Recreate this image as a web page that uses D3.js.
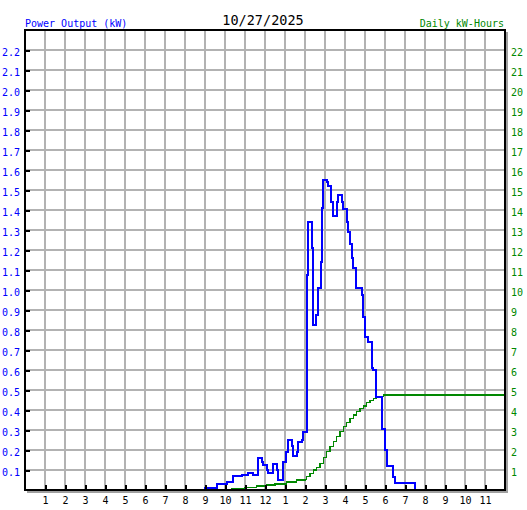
<!DOCTYPE html>
<html>
<head>
<meta charset="utf-8">
<script src="https://cdn.jsdelivr.net/npm/d3@7"></script>
<style>
  html, body { margin: 0; padding: 0; background: #ffffff; }
  svg { display: block; }
  text { font-family: "DejaVu Sans Mono", "Liberation Mono", monospace; }
</style>
</head>
<body>
<svg id="chart" width="527" height="510"></svg>
<script>
// ---- Data ----
const chartDate = "10/27/2025";
const leftTitle = "Power Output (kW)";
const rightTitle = "Daily kW-Hours";

// x tick labels (hours 1..23)
const hourTicks = [1,2,3,4,5,6,7,8,9,10,11,12,13,14,15,16,17,18,19,20,21,22,23];
const hourLabels = ["1","2","3","4","5","6","7","8","9","10","11","12","1","2","3","4","5","6","7","8","9","10","11"];

// left axis ticks (kW) and right axis ticks (kWh)
const kwTicks = [0.1,0.2,0.3,0.4,0.5,0.6,0.7,0.8,0.9,1.0,1.1,1.2,1.3,1.4,1.5,1.6,1.7,1.8,1.9,2.0,2.1,2.2];
const kwhTicks = [1,2,3,4,5,6,7,8,9,10,11,12,13,14,15,16,17,18,19,20,21,22];

// Power output (kW): time of day in hours, value (step series)
const powerHours = [8.83,9.0,9.58,10.08,10.38,10.83,11.13,11.38,11.63,11.83,11.92,12.08,12.17,12.38,12.58,12.67,
  12.88,13.05,13.17,13.33,13.42,13.58,13.67,13.83,13.92,14.08,14.12,14.17,14.33,14.38,14.55,14.67,14.8,14.87,14.92,
  15.08,15.17,15.30,15.42,15.58,15.67,15.83,15.92,16.08,16.17,16.25,16.37,16.42,16.53,16.83,16.88,17.0,17.13,17.33,
  17.42,17.53,17.83,17.98,18.08,18.42,18.5,19.5,19.53];
const powerKW = [0,0.01,0.03,0.04,0.07,0.075,0.085,0.075,0.16,0.14,0.125,0.10,0.085,0.13,0.10,0.05,
  0.14,0.19,0.25,0.22,0.17,0.19,0.24,0.25,0.29,0.55,1.075,1.34,1.21,0.825,0.875,1.01,1.14,1.41,1.55,
  1.54,1.52,1.44,1.37,1.44,1.475,1.44,1.405,1.34,1.29,1.23,1.16,1.11,1.01,0.975,0.867,0.767,0.742,0.61,
  0.60,0.467,0.303,0.20,0.12,0.067,0.033,0,0];

// Cumulative energy (kWh): time of day in hours, value (step series)
const energyHours = [8.83,9.5,10.33,11.0,11.58,12.08,12.5,13.08,13.58,14.0,14.08,14.25,14.42,14.58,14.75,14.92,
  15.08,15.25,15.42,15.58,15.75,15.92,16.08,16.25,16.42,16.58,16.75,16.92,17.08,17.25,17.42,17.58,17.75,17.92,24.0];
const energyKWh = [0,0.03,0.08,0.12,0.2,0.25,0.3,0.4,0.5,0.53,0.67,0.83,1.0,1.13,1.33,1.63,
  1.92,2.17,2.42,2.67,2.92,3.17,3.37,3.58,3.75,3.92,4.08,4.2,4.37,4.47,4.58,4.63,4.67,4.75,4.78];

// ---- Drawing ----
const svg = d3.select("#chart");
const L = 25, T = 30, R = 505, B = 490;

const x = d3.scaleLinear().domain([0, 24]).range([L, R]);
const yKW = d3.scaleLinear().domain([0, 2.3]).range([B, T]);
const yKWh = d3.scaleLinear().domain([0, 23]).range([B, T]);

const blue = "#0000ff", green = "#008800", gridCol = "#b2b2b2";

// grid
const grid = svg.append("g").attr("shape-rendering", "crispEdges");
grid.selectAll("line.v").data(hourTicks).join("line")
  .attr("x1", d => x(d)).attr("x2", d => x(d)).attr("y1", T).attr("y2", B)
  .attr("stroke", gridCol).attr("stroke-width", 2);
grid.selectAll("line.h").data(kwTicks).join("line")
  .attr("x1", L).attr("x2", R).attr("y1", d => yKW(d)).attr("y2", d => yKW(d))
  .attr("stroke", gridCol).attr("stroke-width", 2);

// lines
const powerData = powerHours.map((h, i) => [h, powerKW[i]]);
const energyData = energyHours.map((h, i) => [h, energyKWh[i]]);

svg.append("path").datum(energyData)
  .attr("fill", "none").attr("stroke", green).attr("stroke-width", 1.5)
  .attr("shape-rendering", "crispEdges")
  .attr("d", d3.line().x(d => x(d[0])).y(d => yKWh(d[1])).curve(d3.curveStepAfter));

svg.append("path").datum(powerData)
  .attr("fill", "none").attr("stroke", blue).attr("stroke-width", 2)
  .attr("shape-rendering", "crispEdges")
  .attr("d", d3.line().x(d => x(d[0])).y(d => yKW(d[1])).curve(d3.curveStepAfter));

// shadow + frame
const frame = svg.append("g").attr("shape-rendering", "crispEdges");
frame.append("line").attr("x1", R + 2).attr("x2", R + 2).attr("y1", T + 2).attr("y2", B + 3)
  .attr("stroke", "#a0a0a0").attr("stroke-width", 2);
frame.append("line").attr("x1", L + 2).attr("x2", R + 3).attr("y1", B + 2).attr("y2", B + 2)
  .attr("stroke", "#a0a0a0").attr("stroke-width", 2);
frame.append("rect").attr("x", L).attr("y", T).attr("width", R - L).attr("height", B - T)
  .attr("fill", "none").attr("stroke", "#000").attr("stroke-width", 2);

// axes
const leftAxis = svg.append("g").attr("transform", `translate(${L},0)`)
  .call(d3.axisLeft(yKW).tickValues(kwTicks).tickFormat(d3.format(".1f")).tickSize(-5).tickPadding(5));
leftAxis.select(".domain").remove();
leftAxis.selectAll("line").attr("stroke", "#000").attr("stroke-width", 2).attr("shape-rendering", "crispEdges");
leftAxis.selectAll("text").attr("fill", blue).attr("font-size", 10).attr("dy", "0.5em")
  .style("font-family", '"DejaVu Sans Mono", monospace');

const bottomAxis = svg.append("g").attr("transform", `translate(0,${B})`)
  .call(d3.axisBottom(x).tickValues(hourTicks).tickFormat((d, i) => hourLabels[i]).tickSize(-5).tickPadding(7));
bottomAxis.select(".domain").remove();
bottomAxis.selectAll("line").attr("stroke", "#000").attr("stroke-width", 2).attr("shape-rendering", "crispEdges");
bottomAxis.selectAll("text").attr("fill", "#000").attr("font-size", 10)
  .style("font-family", '"DejaVu Sans Mono", monospace');

const rightAxis = svg.append("g").attr("transform", `translate(${R},0)`)
  .call(d3.axisRight(yKWh).tickValues(kwhTicks).tickFormat(d3.format("d")).tickSize(0).tickPadding(6));
rightAxis.select(".domain").remove();
rightAxis.selectAll("text").attr("fill", green).attr("font-size", 10).attr("dy", "0.5em")
  .style("font-family", '"DejaVu Sans Mono", monospace');

// titles
svg.append("text").attr("x", L).attr("y", 26.5).attr("fill", blue).attr("font-size", 10).text(leftTitle);
svg.append("text").attr("x", 263).attr("y", 25).attr("text-anchor", "middle").attr("fill", "#000")
  .attr("font-size", 13.5).text(chartDate);
svg.append("text").attr("x", 504).attr("y", 26.5).attr("text-anchor", "end").attr("fill", green)
  .attr("font-size", 10).text(rightTitle);
</script>
</body>
</html>
